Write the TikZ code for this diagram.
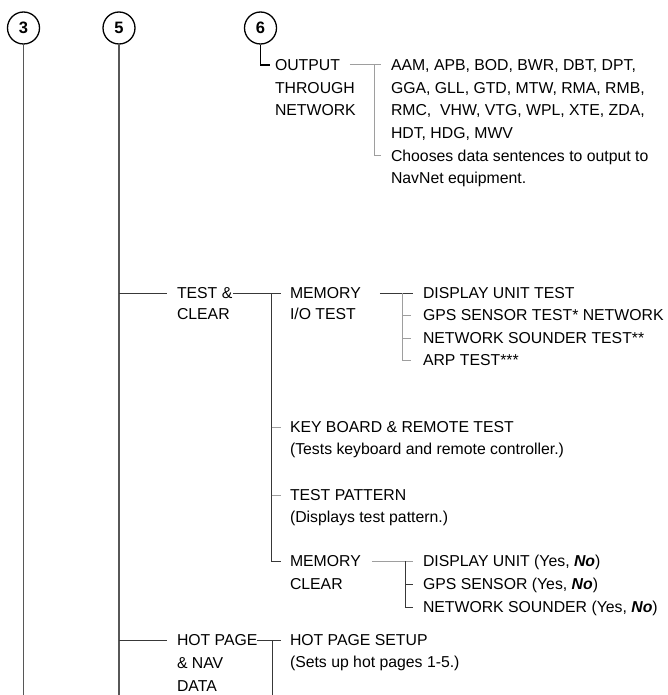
\documentclass[tikz,border=0pt]{standalone}
\usepackage{fontspec}
\setmainfont{Liberation Sans}
\begin{document}
\begin{tikzpicture}[x=1pt,y=-1pt,
  txt/.style={inner sep=0pt, outer sep=0pt, text height=11.4pt, text depth=0pt, anchor=west, font=\fontsize{15.8}{19}\selectfont},
  num/.style={circle, draw=black, line width=1.3pt, minimum size=32pt, inner sep=0pt, font=\fontsize{16.5}{16.5}\selectfont\bfseries},
  trunk/.style={draw=black!66, line width=1.2pt},
  dk/.style={draw=black!78, line width=1pt},
  lt/.style={draw=black!38, line width=1pt},
  hook/.style={draw=black, line width=1.1pt}
]
\useasboundingbox (0,0) rectangle (667,695);
% circled numbers and trunks
\node[num] (c3) at (23.5,28) {3};
\node[num] (c5) at (119,28) {5};
\node[num] (c6) at (260.5,28) {6};
\coordinate (b3) at (23.5,700);
\coordinate (b5) at (119,700);
\draw[trunk] (c3) -- (b3);
\draw[trunk] (c5) -- (b5);

% OUTPUT THROUGH NETWORK
\node[txt] (out1) at (275,65) {OUTPUT};
\node[txt] (out2) at (275,88) {THROUGH};
\node[txt] (out3) at (275,110) {NETWORK};
\draw[hook] (c6.south) |- ([xshift=-5pt]out1.west);
\node[txt] (d1) at (391,65) {AAM, APB, BOD, BWR, DBT, DPT,};
\node[txt] (d2) at (391,88) {GGA, GLL, GTD, MTW, RMA, RMB,};
\node[txt] (d3) at (391,110) {RMC,\ \ VHW, VTG, WPL, XTE, ZDA,};
\node[txt] (d4) at (391,133) {HDT, HDG, MWV};
\node[txt] (d5) at (391,156) {Chooses data sentences to output to};
\node[txt] (d6) at (391,178) {NavNet equipment.};
\coordinate (jo) at (374,65);
\draw[lt] ([xshift=10pt]out1.east) -- ([xshift=-10pt]d1.west);
\draw[lt] (jo) |- ([xshift=-10pt]d5.west);

% TEST & CLEAR
\node[txt] (tc1) at (177,293) {TEST \&};
\node[txt] (tc2) at (177,314) {CLEAR};
\draw[dk] (c5 |- tc1.west) -- ([xshift=-10pt]tc1.west);
\node[txt] (mio1) at (290,293) {MEMORY};
\node[txt] (mio2) at (290,314) {I/O TEST};
\draw[dk] ([xshift=1pt]tc1.east) -- ([xshift=-9pt]mio1.west);
\coordinate (jt) at (271.5,293);
\node[txt] (kb1) at (290,427) {KEY BOARD \& REMOTE TEST};
\node[txt] (kb2) at (290,449) {(Tests keyboard and remote controller.)};
\node[txt] (tp1) at (290,495) {TEST PATTERN};
\node[txt] (tp2) at (290,517) {(Displays test pattern.)};
\node[txt] (mc1) at (290,561) {MEMORY};
\node[txt] (mc2) at (290,584) {CLEAR};
\draw[dk] (jt) |- ([xshift=-9pt]mc1.west);
\draw[lt] (jt |- kb1.west) -- ([xshift=-9pt]kb1.west);
\draw[lt] (jt |- tp1.west) -- ([xshift=-9pt]tp1.west);

% MEMORY I/O TEST items
\node[txt] (m1) at (423,293) {DISPLAY UNIT TEST};
\node[txt] (m2) at (423,315) {GPS SENSOR TEST* NETWORK};
\node[txt] (m3) at (423,338) {NETWORK SOUNDER TEST**};
\node[txt] (m4) at (423,360) {ARP TEST***};
\draw[dk] ([xshift=19pt]mio1.east) -- ([xshift=-10pt]m1.west);
\coordinate (jm) at (402,293);
\draw[lt] (jm) |- ([xshift=-12pt]m4.west);
\draw[lt] (jm |- m2.west) -- ([xshift=-12pt]m2.west);
\draw[lt] (jm |- m3.west) -- ([xshift=-12pt]m3.west);

% MEMORY CLEAR items
\node[txt] (r1) at (423,561) {DISPLAY UNIT (Yes, \textbf{\textit{No}})};
\node[txt] (r2) at (423,584) {GPS SENSOR (Yes, \textbf{\textit{No}})};
\node[txt] (r3) at (423,607) {NETWORK SOUNDER (Yes, \textbf{\textit{No}})};
\draw[lt] ([xshift=11pt]mc1.east) -- ([xshift=-10pt]r1.west);
\coordinate (jc) at (405,561);
\draw[dk] (jc) |- ([xshift=-10pt]r3.west);
\draw[dk] (jc |- r2.west) -- ([xshift=-10pt]r2.west);

% HOT PAGE & NAV DATA
\node[txt] (hp1) at (177,640) {HOT PAGE};
\node[txt] (hp2) at (177,663) {\& NAV};
\begin{scope}
\clip (0,0) rectangle (667,690.5);
\node[txt] (hp3) at (177,686) {DATA};
\end{scope}
\draw[dk] (c5 |- hp1.west) -- ([xshift=-10pt]hp1.west);
\node[txt] (hs1) at (290,640) {HOT PAGE SETUP};
\node[txt] (hs2) at (290,662) {(Sets up hot pages 1-5.)};
\draw[dk] (hp1.east) -- ([xshift=-9pt]hs1.west);
\coordinate (jh) at (272.5,640);
\coordinate (bh) at (272.5,700);
\draw[dk] (jh) -- (bh);
\end{tikzpicture}
\end{document}
